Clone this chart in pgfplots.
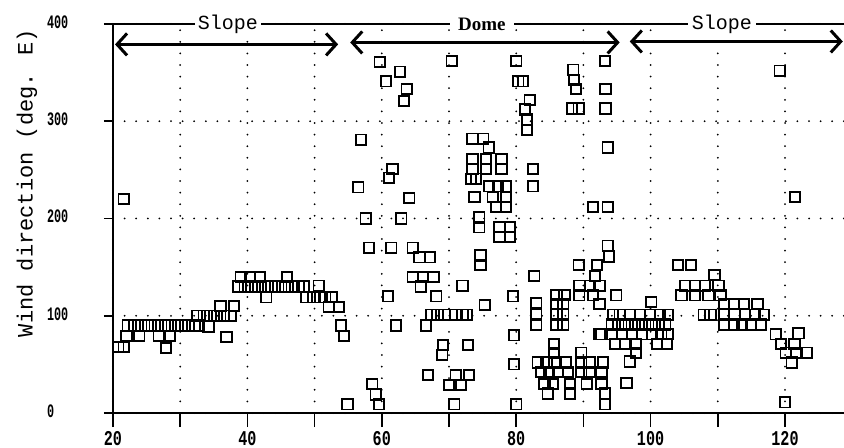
\documentclass[border=0pt]{standalone}
\usepackage{fontspec}
\setmainfont{Liberation Mono}
\newfontfamily\domefont{Liberation Serif}
\newfontfamily\tickfont[FakeStretch=0.72]{Liberation Mono}
\newfontfamily\ytickfont[FakeStretch=0.62]{Liberation Mono}
\usepackage{pgfplots}
\usepackage{pgfplotstable}
\pgfplotsset{compat=1.18}
\usetikzlibrary{arrows.meta}

\pgfplotstableread{
x y
21.6 220
20.8 68
21.6 68
22.0 79
23.9 79
26.8 79
28.5 79
27.9 67
22.2 90
23.2 90
24.2 90
25.2 90
26.2 90
27.2 90
28.2 90
29.2 90
30.2 90
31.2 90
32.2 90
32.8 90
32.5 100
33.5 100
34.5 100
35.5 100
36.5 100
37.5 100
34.2 89
36.9 78
36.0 110
38.0 110
38.6 130
39.6 130
40.6 130
41.6 130
42.6 130
43.6 130
44.6 130
45.6 130
46.6 130
47.6 130
48.4 130
39.0 140
40.4 140
41.9 140
45.9 140
42.8 119
48.8 119
49.8 119
50.8 119
51.6 119
52.6 119
52.1 109
53.6 109
50.6 131
53.9 90
54.4 79
54.9 9
56.9 281
56.5 232
57.6 200
58.1 170
59.7 361
62.7 351
60.6 341
63.7 333
63.3 321
61.6 251
61.1 242
64.1 221
62.9 200
61.4 170
64.6 170
65.6 160
67.2 160
64.6 140
66.1 140
67.7 140
65.8 130
68.1 120
60.9 120
62.1 90
66.6 90
67.3 101
68.3 101
69.3 101
71.0 101
72.0 101
72.7 101
72.0 131
75.3 111
79.5 120
69.1 70
69.0 60
72.8 70
79.7 80
79.7 50
66.9 39
71.0 39
73.0 39
70.0 29
71.8 29
58.6 30
59.1 19
59.6 9
70.8 9
80.0 9
70.4 362
80.0 362
80.3 341
81.0 341
82.0 322
81.3 312
81.6 302
81.6 291
73.5 282
75.1 282
75.9 273
73.5 261
75.5 261
77.8 261
73.5 251
75.5 251
77.8 251
73.3 241
74.0 241
76.0 233
77.3 233
78.5 233
73.8 222
76.5 222
78.5 222
77.0 212
78.5 212
74.5 201
74.5 191
77.5 191
79.1 191
77.5 181
79.1 181
74.7 162
74.7 152
82.5 251
82.5 233
82.7 141
88.5 353
88.6 342
88.9 333
88.3 313
89.3 313
93.2 362
93.3 333
93.3 313
93.6 273
91.4 212
93.6 212
93.6 172
93.8 161
89.3 152
92.0 152
91.7 141
89.4 131
91.0 131
92.4 131
94.9 121
86.0 121
87.2 121
89.4 121
91.4 121
92.4 112
83.0 113
83.0 101
83.0 91
86.0 112
87.0 112
86.0 101
87.0 101
86.0 91
87.0 91
92.4 81
85.6 71
85.6 62
89.7 62
83.2 52
84.5 52
85.7 52
87.4 52
89.7 52
90.9 52
92.9 52
83.7 42
84.9 42
86.2 42
87.7 42
89.7 42
90.9 42
92.7 42
84.2 30
85.5 30
88.0 30
90.5 30
92.7 30
84.7 20
88.0 20
93.2 20
93.2 9
94.4 101
95.4 101
96.9 101
98.4 101
99.9 101
101.4 101
102.6 101
94.2 91
95.2 91
96.2 91
97.2 91
98.2 91
99.2 91
100.2 91
101.2 91
102.2 91
92.7 81
94.2 81
95.7 81
97.2 81
98.7 81
100.2 81
101.6 81
102.6 81
94.7 71
96.2 71
97.8 71
101.0 71
102.4 71
96.9 53
96.4 31
97.8 62
100.1 114
104.1 152
106.0 152
109.5 142
105.1 131
106.6 131
108.1 131
110.1 131
104.6 121
106.6 121
108.6 121
110.4 121
110.9 112
112.4 112
113.9 112
115.9 112
107.9 101
108.9 101
110.9 101
112.5 101
114.0 101
115.5 101
116.9 101
110.9 91
112.4 91
113.6 91
114.9 91
116.4 91
118.6 81
119.4 71
121.4 71
122.0 82
120.1 62
121.6 62
123.3 62
121.0 52
121.5 222
119.2 352
120.0 11
}\datatable

\begin{document}
\begin{tikzpicture}
\begin{axis}[
  x=3.36pt, y=0.4863pt,
  xmin=20, xmax=128.8, ymin=0, ymax=400,
  axis lines*=left,
  axis line style={line width=1.3pt},
  clip=false,
  xtick={20,30,...,120},
  xticklabels={20,,40,,60,,80,,100,,120},
  ytick={0,100,200,300,400},
  tick align=outside,
  major tick length=4.5pt,
  tick style={black, line width=0.8pt},
  xtick style={/pgfplots/major tick length=7pt},
  grid=major,
  major grid style={black, line width=1pt, line cap=round, dash pattern=on 0pt off 5.8pt},
  /pgf/number format/assume math mode=true,
  yticklabel style={font=\ytickfont\bfseries\fontsize{9.5}{10}\selectfont, anchor=west, xshift=-32pt, yshift=1pt},
  xticklabel style={font=\tickfont\bfseries\fontsize{10.5}{11}\selectfont, yshift=-1pt},
  ylabel={Wind direction (deg. E)},
  ylabel style={at={(axis description cs:-0.1176,0.591)}, anchor=center, font=\fontsize{11}{12}\selectfont},
]
\addplot[only marks, mark=square, mark size=2.6pt, mark options={line width=0.9pt, draw=black, fill=none}] table[x=x,y=y]{\datatable};

\draw[line width=1.3pt] (axis cs:20,400) -- (axis cs:128.8,400);
\node[fill=white, inner sep=1.5pt, font=\fontsize{10}{12}\selectfont] at (axis cs:37.1,400) {Slope};
\node[fill=white, inner sep=4pt, font=\domefont\bfseries\fontsize{9.5}{11}\selectfont] at (axis cs:74.9,400) {Dome};
\node[fill=white, inner sep=2pt, font=\fontsize{10}{12}\selectfont] at (axis cs:110.6,400) {Slope};

\draw[line width=1.5pt, {Straight Barb[length=5pt,width=11pt]}-{Straight Barb[length=5pt,width=11pt]}] (axis cs:20.3,379) -- (axis cs:53.5,379);
\draw[line width=1.5pt, {Straight Barb[length=5pt,width=11pt]}-{Straight Barb[length=5pt,width=11pt]}] (axis cs:55.3,381) -- (axis cs:95.4,381);
\draw[line width=1.5pt, {Straight Barb[length=5pt,width=11pt]}-{Straight Barb[length=5pt,width=11pt]}] (axis cs:96.9,382) -- (axis cs:128.6,382);
\end{axis}
\pgfresetboundingbox
\path (current axis.south west) ++(-56.5pt,-17pt) rectangle ++(422pt,223.5pt);
\end{tikzpicture}
\end{document}
